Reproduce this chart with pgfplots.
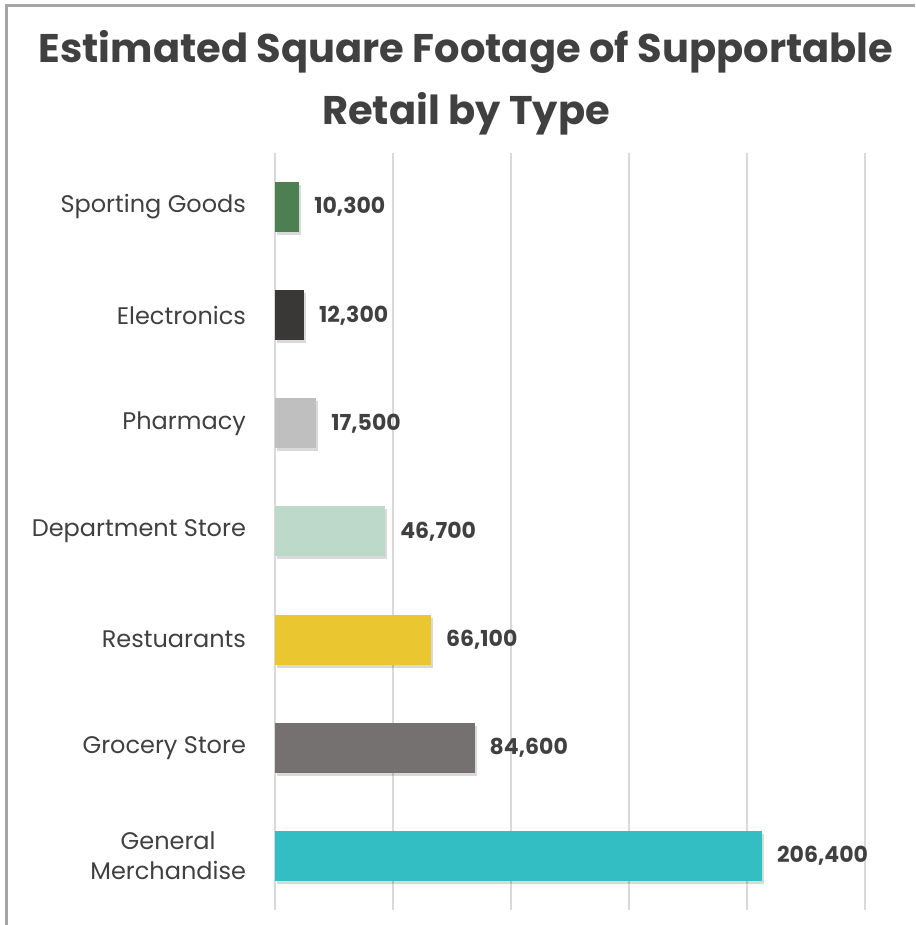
\documentclass[border=0pt]{standalone}
\usepackage{fontspec}
\setmainfont{Poppins}
\usepackage{pgfplots}
\pgfplotsset{compat=1.18}
\definecolor{txt}{HTML}{404040}
\definecolor{gridc}{HTML}{D9D9D9}
\definecolor{frame}{HTML}{A6A6A6}
\definecolor{cSport}{HTML}{4E7F52}
\definecolor{cElec}{HTML}{3A3836}
\definecolor{cPharm}{HTML}{BFBFBF}
\definecolor{cDept}{HTML}{BCD9C9}
\definecolor{cRest}{HTML}{EAC730}
\definecolor{cGroc}{HTML}{767171}
\definecolor{cGen}{HTML}{33BEC3}
\begin{document}
\begin{tikzpicture}[x=0.5pt,y=0.5pt]
\useasboundingbox (0,0) rectangle (915,925);
\draw[line width=1.5pt, color=frame] (6,0) -- (6,919.5) -- (915,919.5);
\node[anchor=base, font=\fontsize{20}{24}\selectfont\bfseries, text=txt] at (466,862) {Estimated Square Footage of Supportable};
\node[anchor=base, font=\fontsize{20}{24}\selectfont\bfseries, text=txt] at (466,800) {Retail by Type};
\begin{axis}[
  at={(137.5pt,7.5pt)}, anchor=south west,
  scale only axis, width=295pt, height=378.5pt,
  xbar, bar width=25pt,
  xmin=0, xmax=250000, ymin=-0.5, ymax=6.5,
  axis line style={draw=none},
  xmajorgrids, grid style={gridc, line width=0.6pt},
  xtick={0,50000,100000,150000,200000,250000},
  xmajorticks=false,
  major tick length=0pt,
  ytick={0,1,2,3,4,5,6},
  yticklabels={{General\\Merchandise},Grocery Store,Restuarants,Department Store,Pharmacy,Electronics,Sporting Goods},
  yticklabel style={align=center, font=\fontsize{12}{15}\selectfont, text=txt, xshift=-11pt},
  nodes near coords,
  nodes near coords style={anchor=west, xshift=4pt, font=\fontsize{11}{13}\selectfont\bfseries, text=txt,
    /pgf/number format/.cd, fixed, precision=0, 1000 sep={,}, assume math mode=true},
  every axis plot/.append style={bar shift=0pt, draw=none,
    preaction={fill=black, opacity=0.15, transform canvas={shift={(1pt,-1.5pt)}}}},
]
\addplot[fill=cGen] coordinates {(206400,0)};
\addplot[fill=cGroc] coordinates {(84600,1)};
\addplot[fill=cRest] coordinates {(66100,2)};
\addplot[fill=cDept] coordinates {(46700,3)};
\addplot[fill=cPharm] coordinates {(17500,4)};
\addplot[fill=cElec] coordinates {(12300,5)};
\addplot[fill=cSport] coordinates {(10300,6)};
\end{axis}
\end{tikzpicture}
\end{document}
